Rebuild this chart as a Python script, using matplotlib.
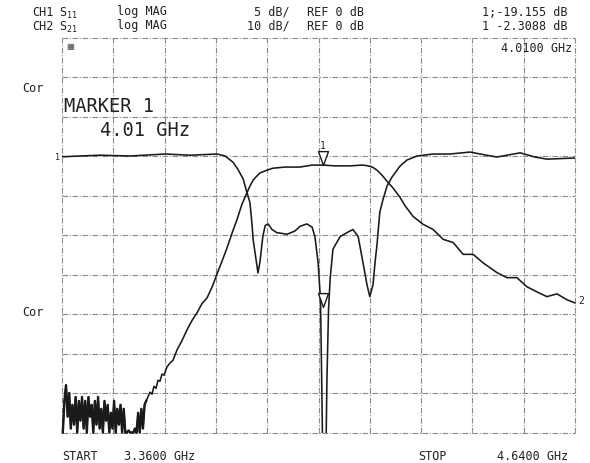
import numpy as np
import matplotlib
matplotlib.use("Agg")
import matplotlib.pyplot as plt
from matplotlib.path import Path

plt.rcParams['mathtext.fontset'] = 'custom'
plt.rcParams['mathtext.rm'] = 'DejaVu Sans Mono'
plt.rcParams['mathtext.it'] = 'DejaVu Sans Mono'
MONO = 'DejaVu Sans Mono'

# ---------------- data ----------------
f_start, f_stop = 3.36, 4.64
marker_freq = 4.01
s11_marker_db = -19.155
s21_marker_db = -2.3088

# CH1: S11 (5 dB/div, REF 0 dB)
s11_freq = [3.360, 3.405, 3.455, 3.530, 3.617, 3.679, 3.747, 3.767, 3.787, 3.799,
            3.812, 3.819, 3.829, 3.834, 3.837, 3.845, 3.849, 3.854, 3.861, 3.867,
            3.874, 3.884, 3.896, 3.922, 3.941, 3.954, 3.971, 3.984, 3.991, 3.999,
            4.005, 4.008, 4.010, 4.019, 4.021, 4.025, 4.029, 4.036, 4.054, 4.071,
            4.086, 4.099, 4.111, 4.121, 4.128, 4.136, 4.141, 4.146, 4.153, 4.161,
            4.171, 4.183, 4.203, 4.221, 4.246, 4.286, 4.328, 4.378, 4.416, 4.445,
            4.503, 4.540, 4.570, 4.640]
s11_db = [-0.1, 0.0, 0.1, 0.0, 0.25, 0.1, 0.25, 0.0, -0.8, -1.7,
          -2.9, -4.2, -5.9, -8.6, -10.6, -13.4, -14.8, -13.4, -10.2, -8.8,
          -8.6, -9.3, -9.7, -9.9, -9.5, -8.9, -8.6, -9.0, -10.2, -13.5,
          -18.2, -28.4, -36.0, -36.0, -28.4, -19.5, -15.6, -11.8, -10.2, -9.7,
          -9.3, -10.2, -13.5, -16.3, -17.8, -16.3, -13.5, -11.2, -7.1, -5.5,
          -3.8, -2.7, -1.3, -0.5, 0.0, 0.25, 0.25, 0.5, 0.13, -0.13,
          0.4, -0.13, -0.4, -0.25]

# CH2: S21 (10 dB/div, REF 0 dB) -- noise floor samples
s21_noise_freq = np.round(np.arange(3.362, 3.5705, 0.004), 3)
s21_noise_db = [-70, -62, -58, -66, -60, -69, -63, -68, -61, -70,
                -62, -67, -61, -69, -62, -70, -61, -66, -63, -70,
                -62, -68, -61, -69, -64, -70, -62, -67, -63, -70,
                -65, -69, -62, -70, -64, -68, -63, -70, -64, -70,
                -70, -69.5, -70, -70, -70, -69, -70, -65, -70, -64,
                -69, -63, -62]
# CH2: S21 rising edge, passband and upper skirt
s21_freq = [3.5796, 3.5846, 3.5896, 3.5945, 3.5995, 3.6045, 3.6095, 3.6145, 3.622, 3.6295,
            3.637, 3.647, 3.659, 3.672, 3.684, 3.697, 3.709, 3.722, 3.734, 3.747,
            3.759, 3.772, 3.784, 3.797, 3.809, 3.822, 3.829, 3.837, 3.844, 3.854,
            3.861, 3.871, 3.886, 3.916, 3.954, 3.984, 4.011, 4.041, 4.079, 4.108,
            4.118, 4.128, 4.136, 4.146, 4.158, 4.171, 4.186, 4.203, 4.216, 4.236,
            4.261, 4.286, 4.311, 4.336, 4.361, 4.386, 4.410, 4.445, 4.470, 4.495,
            4.520, 4.545, 4.570, 4.595, 4.620, 4.640]
s21_db = [-59.8, -60.3, -58.3, -58.8, -56.8, -57.0, -55.2, -55.5, -53.4, -52.4,
          -51.7, -49.1, -46.8, -44.0, -41.7, -39.7, -37.4, -35.9, -33.3, -29.8,
          -26.7, -23.2, -19.6, -16.0, -12.2, -9.2, -7.6, -6.1, -5.3, -4.3,
          -4.0, -3.6, -3.1, -2.8, -2.8, -2.3, -2.3, -2.5, -2.5, -2.3,
          -2.4, -2.6, -2.9, -3.6, -4.8, -6.4, -8.1, -10.4, -12.6, -15.3,
          -17.3, -18.6, -21.1, -21.9, -24.9, -24.9, -27.0, -29.5, -30.8, -30.8,
          -33.1, -34.4, -35.6, -34.9, -36.4, -37.2]

# ---------------- figure ----------------
W, H = 590, 464
fig = plt.figure(figsize=(W / 100, H / 100), dpi=100)
fig.patch.set_facecolor('white')


def P(x, y):
    return (x / W, 1 - y / H)


left, right, top, bottom = 62, 575, 38.5, 433.5
ax = fig.add_axes([left / W, 1 - bottom / H, (right - left) / W, (bottom - top) / H])
ax.set_xlim(f_start, f_stop)
ax.set_ylim(-35, 15)
ax2 = ax.twinx()
ax2.set_ylim(-70, 30)
for a in (ax, ax2):
    a.set_xticks([])
    a.set_yticks([])
    for s in a.spines.values():
        s.set_visible(False)
ax.set_facecolor('none')

# graticule 10 x 10
gstyle = dict(color='#8a8a8a', lw=0.8, ls=(0, (5, 1.5, 1, 1.5)), zorder=0, clip_on=False)
for k in range(11):
    ax.axvline(f_start + k * (f_stop - f_start) / 10, **gstyle)
    ax.axhline(-35 + k * 5, **gstyle)

trace = dict(color='#1a1a1a', lw=1.15, solid_joinstyle='round', solid_capstyle='round')
ax.plot(s11_freq, s11_db, **trace, zorder=3)
s21_f_all = np.concatenate([s21_noise_freq, s21_freq])
s21_db_all = np.concatenate([s21_noise_db, s21_db])
ax2.plot(s21_f_all, s21_db_all, **trace, zorder=3, clip_on=False)
# heavier pen where the noisy floor overlaps itself
ax2.plot(s21_noise_freq, s21_noise_db, color='#1a1a1a', lw=1.7, zorder=3, clip_on=False)

# marker triangles (tip on the trace)
tri = Path([(-0.36, 1.0), (0.36, 1.0), (0.0, 0.0), (-0.36, 1.0)],
           [Path.MOVETO, Path.LINETO, Path.LINETO, Path.CLOSEPOLY])
ax2.plot([marker_freq], [s21_marker_db], marker=tri, ms=20, mfc='white', mec='#1a1a1a',
         mew=1.0, ls='none', zorder=5)
ax.plot([marker_freq], [s11_marker_db], marker=tri, ms=20, mfc='white', mec='#1a1a1a',
        mew=1.0, ls='none', zorder=5)
fig.text(*P(322.5, 146), '1', fontsize=7, family=MONO, ha='center', va='center', color='#222')

# ---------------- texts ----------------
tk = dict(fontsize=8.5, family=MONO, color='#222', va='center')
for yy, ch, s, scale, val in [(12, 'CH1', r'S$_{11}$', '5 dB/', '1;-19.155 dB'),
                              (26, 'CH2', r'S$_{21}$', '10 dB/', '1 -2.3088 dB')]:
    fig.text(*P(32, yy), ch, ha='left', **tk)
    fig.text(*P(59, yy + 1), s, ha='left', **tk)
    fig.text(*P(117, yy), 'log MAG', ha='left', **tk)
    fig.text(*P(290, yy), scale, ha='right', **tk)
    fig.text(*P(307, yy), 'REF 0 dB', ha='left', **tk)
    fig.text(*P(568, yy), val, ha='right', **tk)

fig.text(*P(572, 48), '4.0100 GHz', ha='right', **tk)
fig.text(*P(70, 47), '▦', ha='center', fontsize=6, family='DejaVu Sans', color='#444', va='center')
fig.text(*P(22, 88), 'Cor', ha='left', **tk)
fig.text(*P(22, 313), 'Cor', ha='left', **tk)

tb = dict(fontsize=13.5, family=MONO, color='#222', va='center')
fig.text(*P(64, 106), 'MARKER 1', ha='left', **tb)
fig.text(*P(100, 130), '4.01 GHz', ha='left', **tb)

fig.text(*P(62, 457), 'START', ha='left', **tk)
fig.text(*P(124, 457), '3.3600 GHz', ha='left', **tk)
fig.text(*P(418, 457), 'STOP', ha='left', **tk)
fig.text(*P(568, 457), '4.6400 GHz', ha='right', **tk)

# reference position labels
fig.text(*P(57, 158), '1', fontsize=6, family=MONO, color='#222', ha='center', va='center')
fig.text(*P(581, 301), '2', fontsize=7, family=MONO, color='#222', ha='center', va='center')

fig.savefig('out.png', dpi=100, facecolor='white')
